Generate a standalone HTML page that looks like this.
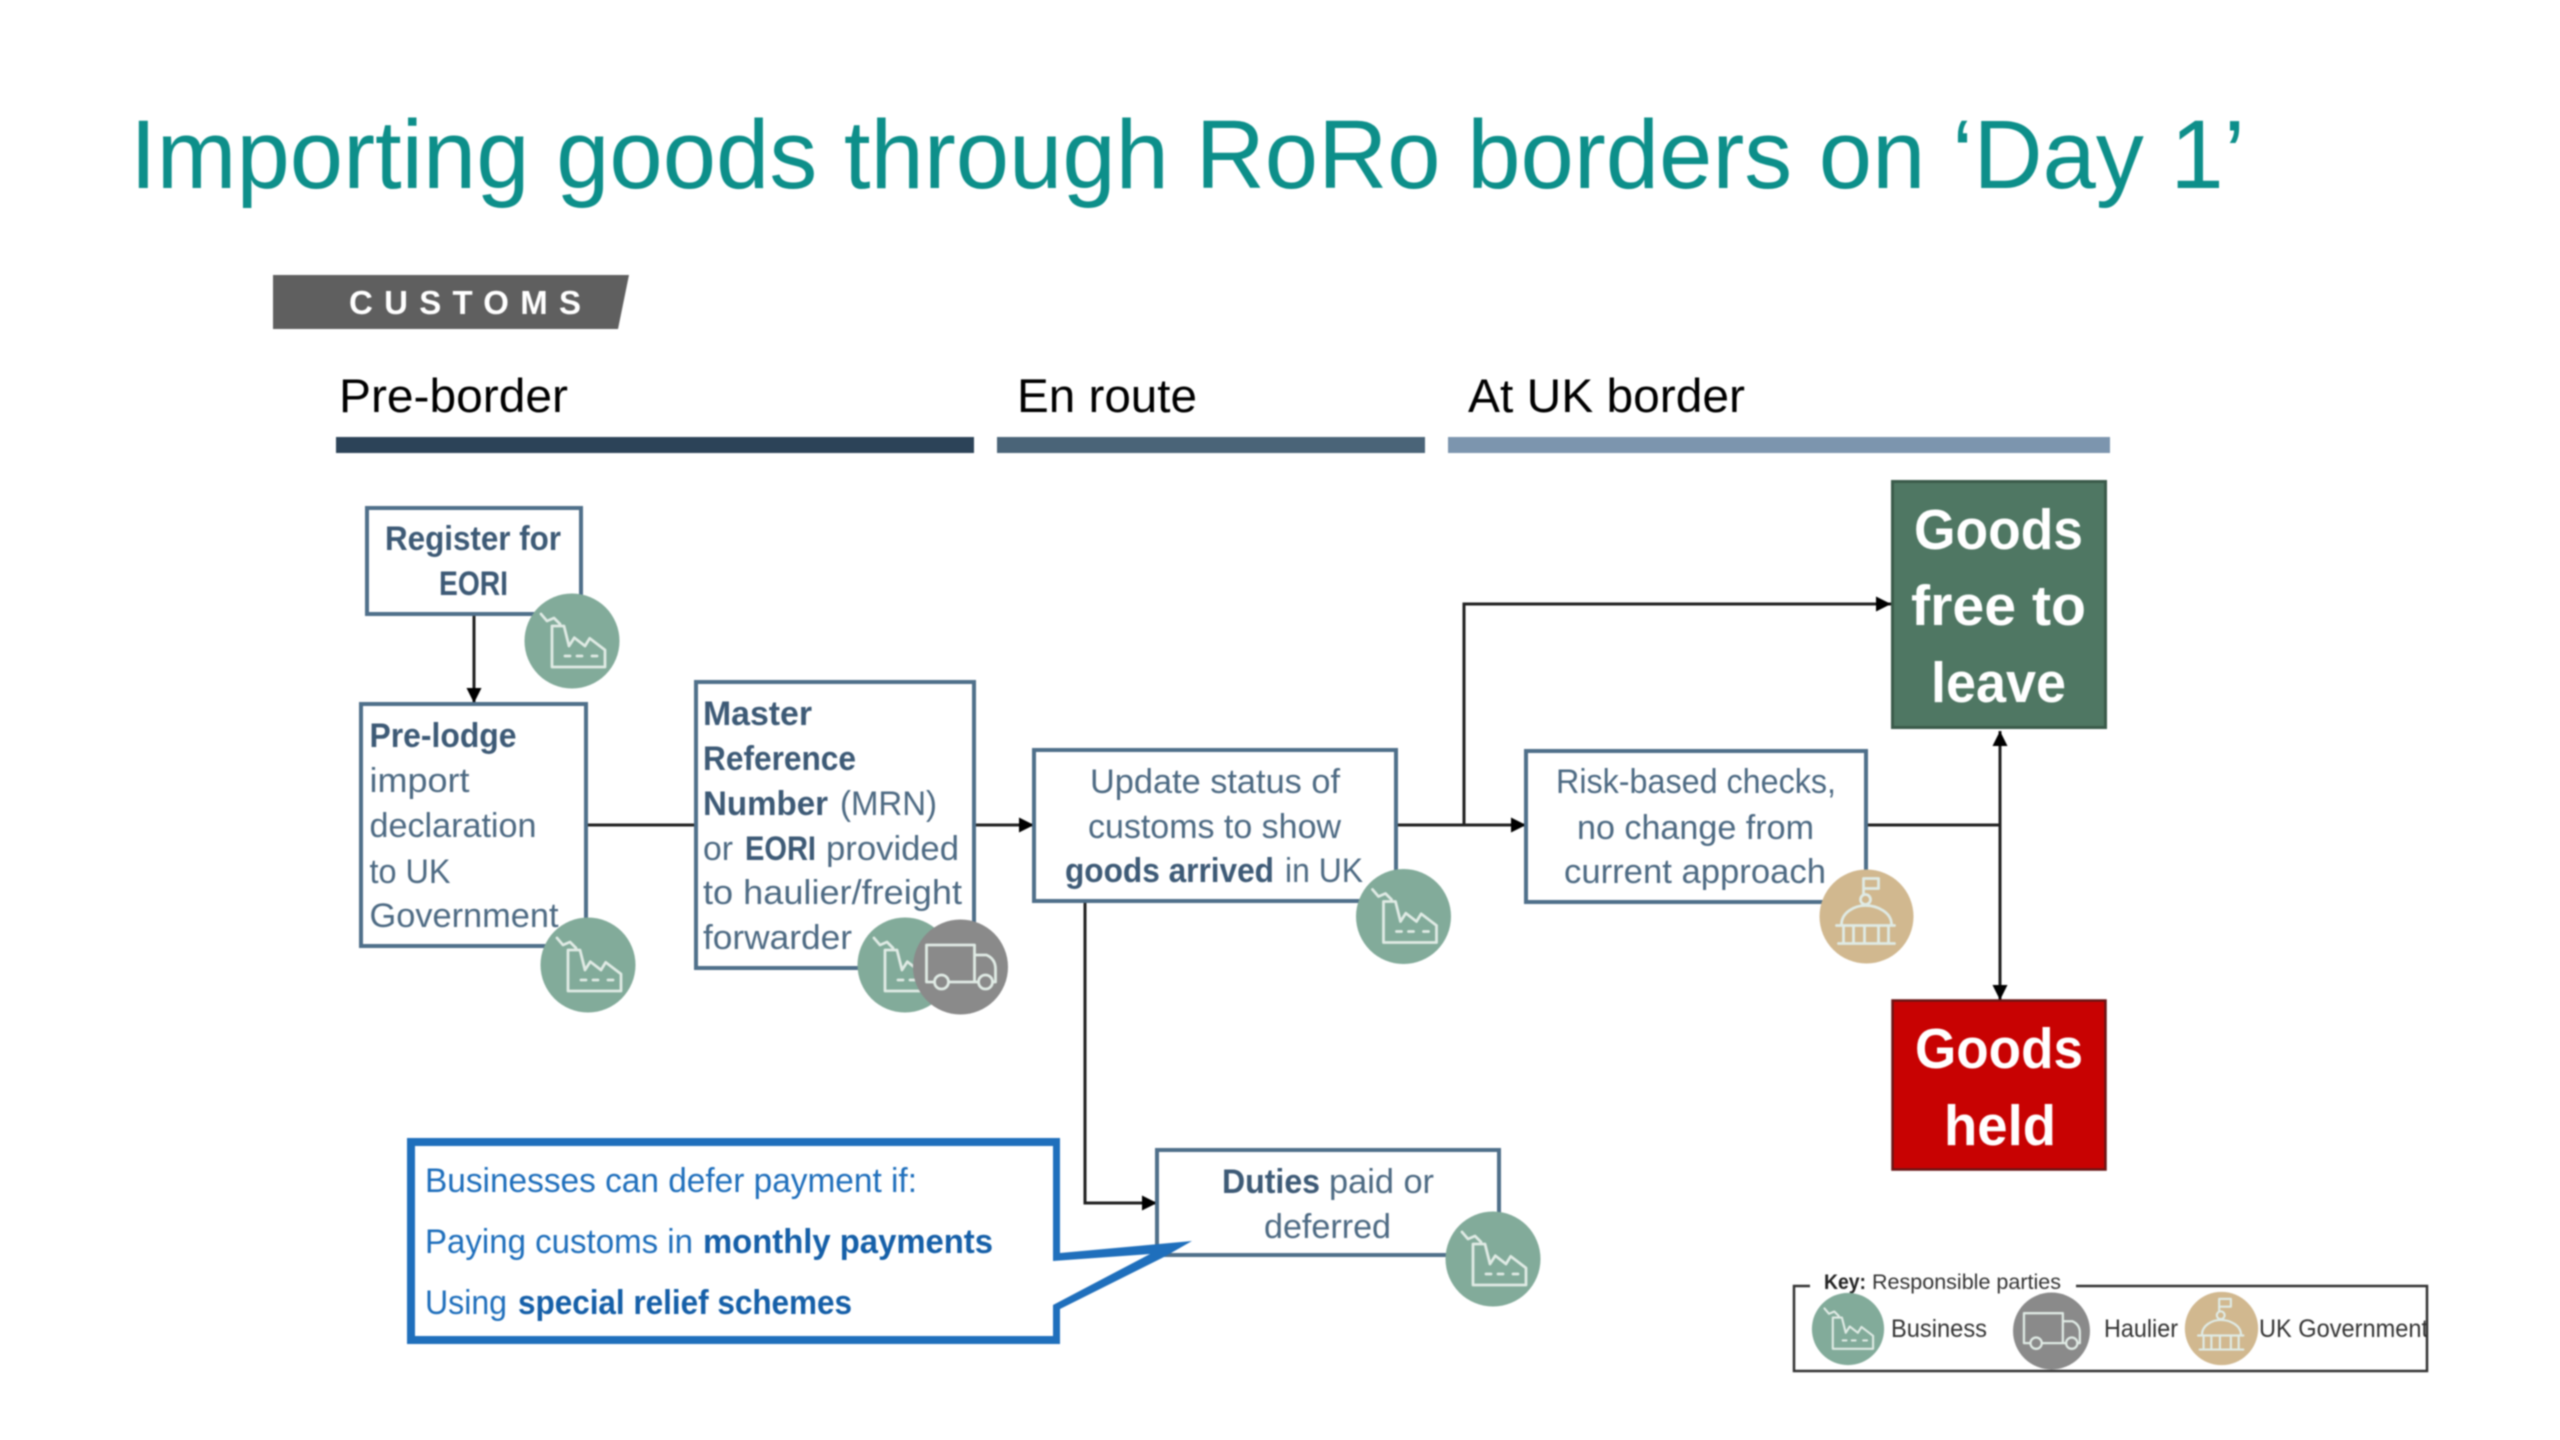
<!DOCTYPE html>
<html lang="en">
<head>
<meta charset="utf-8">
<title>Importing goods through RoRo borders on ‘Day 1’</title>
<style>
html,body{margin:0;padding:0;background:#fff;width:2560px;height:1440px;overflow:hidden}
svg{display:block;filter:blur(0.9px)}
text{font-family:"Liberation Sans",Arial,sans-serif}
.t{font-size:34px;fill:#4d6a83}
.b{font-size:34px;fill:#3d5a76;font-weight:bold}
.c{font-size:34px;fill:#1f6fbc}
.cb{font-size:34px;fill:#155fa8;font-weight:bold}
.w{font-size:57px;fill:#fff;font-weight:bold}
.h{font-size:47px;fill:#000}
.k{font-size:25px;fill:#333}
.box{fill:#fff;stroke:#4f6f8a;stroke-width:4}
.ln{fill:none;stroke:#222;stroke-width:3}
.ic{fill:none;stroke:#dfeae4;stroke-width:2.8;stroke-linejoin:round;stroke-linecap:round}
</style>
</head>
<body>
<svg xmlns="http://www.w3.org/2000/svg" width="2560" height="1440" viewBox="0 0 2560 1440">
<defs>
<g id="biz">
<circle r="47.5" fill="#82ab9a"/>
<path class="ic" d="M-20 26V-15H-8L-3 5 2.3-3.3 13 5 17.7-2.7 33 9V26Z"/>
<path class="ic" d="M-31-27-25-20-18-23-12-17"/>
<path class="ic" d="M-7 15H-2M5 15H10M20 15H25"/>
</g>
<g id="truck">
<circle r="47.5" fill="#8a8a8a"/>
<path class="ic" d="M-12 15H18M-26 15H-34V-22H14V15M14-12H26Q35-8 35 2V15H32"/>
<circle class="ic" cx="-19" cy="15" r="7"/>
<circle class="ic" cx="25" cy="15" r="7"/>
</g>
<g id="gov">
<circle r="47" fill="#d1b88f"/>
<path class="ic" d="M-3-23V-38H12V-28H-3"/>
<circle class="ic" cx="-1" cy="-17" r="5"/>
<path class="ic" d="M-25 8C-25-4-12-11-1-11 11-11 25-4 25 8M-30 9H28M-23 11V27M-13 11V27M-2 11V27M12 11V27M22 11V27M-28 27H28"/>
</g>
<marker id="ah" viewBox="0 0 10 10" refX="10" refY="5" markerWidth="15" markerHeight="15" markerUnits="userSpaceOnUse" orient="auto-start-reverse">
<path d="M0 0L10 5L0 10Z" fill="#000"/>
</marker>
</defs>

<!-- Title -->
<text x="130" y="188" font-size="97" fill="#0d8f8a" textLength="2115" lengthAdjust="spacingAndGlyphs">Importing goods through RoRo borders on ‘Day 1’</text>

<!-- Customs tag -->
<path d="M273 275H629L618 329H273Z" fill="#5f5f5f"/>
<text x="349" y="314" font-size="33" font-weight="bold" fill="#fff" textLength="232">CUSTOMS</text>

<!-- Phase headers -->
<text class="h" x="339" y="412" textLength="229" lengthAdjust="spacingAndGlyphs">Pre-border</text>
<text class="h" x="1017" y="412" textLength="180" lengthAdjust="spacingAndGlyphs">En route</text>
<text class="h" x="1468" y="412" textLength="277" lengthAdjust="spacingAndGlyphs">At UK border</text>
<rect x="336" y="437" width="638" height="16" fill="#2c4358"/>
<rect x="997" y="437" width="428" height="16" fill="#4a6478"/>
<rect x="1448" y="437" width="662" height="16" fill="#7c95ae"/>

<!-- Connectors -->
<path class="ln" d="M474 614V703" marker-end="url(#ah)"/>
<path class="ln" d="M586 825H696" stroke-width="4"/>
<path class="ln" d="M974 825H1034" marker-end="url(#ah)"/>
<path class="ln" d="M1396 825H1526" marker-end="url(#ah)" stroke-width="4"/>
<path class="ln" d="M1464 825V604H1891" marker-end="url(#ah)"/>
<path class="ln" d="M1866 825H2000" stroke-width="4"/>
<path class="ln" d="M2000 825V731" marker-end="url(#ah)"/>
<path class="ln" d="M2000 825V1000" marker-end="url(#ah)"/>
<path class="ln" d="M1085 901V1203H1157" marker-end="url(#ah)"/>

<!-- Register for EORI -->
<rect class="box" x="367" y="508" width="214" height="106"/>
<text class="b" x="385" y="550" textLength="176" lengthAdjust="spacingAndGlyphs">Register for</text>
<text class="b" x="439" y="595" textLength="69" lengthAdjust="spacingAndGlyphs">EORI</text>
<use href="#biz" x="572" y="641"/>

<!-- Pre-lodge -->
<rect class="box" x="361" y="704" width="225" height="242"/>
<text class="b" x="369.5" y="747" textLength="147" lengthAdjust="spacingAndGlyphs">Pre-lodge</text>
<text class="t" x="369.5" y="792" textLength="100" lengthAdjust="spacingAndGlyphs">import</text>
<text class="t" x="369.5" y="837" textLength="167" lengthAdjust="spacingAndGlyphs">declaration</text>
<text class="t" x="369.5" y="883" textLength="81" lengthAdjust="spacingAndGlyphs">to UK</text>
<text class="t" x="369.5" y="927" textLength="189" lengthAdjust="spacingAndGlyphs">Government</text>
<use href="#biz" x="588" y="965"/>

<!-- MRN -->
<rect class="box" x="696" y="682" width="278" height="286"/>
<text class="b" x="703" y="725" textLength="109" lengthAdjust="spacingAndGlyphs">Master</text>
<text class="b" x="703" y="770" textLength="153" lengthAdjust="spacingAndGlyphs">Reference</text>
<text class="b" x="703" y="815" textLength="125" lengthAdjust="spacingAndGlyphs">Number</text>
<text class="t" x="840" y="815" textLength="97" lengthAdjust="spacingAndGlyphs">(MRN)</text>
<text class="t" x="703" y="860" textLength="30" lengthAdjust="spacingAndGlyphs">or</text>
<text class="b" x="745" y="860" textLength="71" lengthAdjust="spacingAndGlyphs">EORI</text>
<text class="t" x="826" y="860" textLength="133" lengthAdjust="spacingAndGlyphs">provided</text>
<text class="t" x="703" y="904" textLength="259" lengthAdjust="spacingAndGlyphs">to haulier/freight</text>
<text class="t" x="703" y="949" textLength="149" lengthAdjust="spacingAndGlyphs">forwarder</text>
<use href="#biz" x="905" y="965"/>
<use href="#truck" x="960.5" y="967"/>

<!-- Update status -->
<rect class="box" x="1034" y="750" width="362" height="151"/>
<text class="t" x="1090" y="793" textLength="250" lengthAdjust="spacingAndGlyphs">Update status of</text>
<text class="t" x="1088" y="838" textLength="253" lengthAdjust="spacingAndGlyphs">customs to show</text>
<text class="b" x="1065" y="882" textLength="209" lengthAdjust="spacingAndGlyphs">goods arrived</text>
<text class="t" x="1285" y="882" textLength="78" lengthAdjust="spacingAndGlyphs">in UK</text>
<use href="#biz" x="1403.5" y="916.5"/>

<!-- Risk-based -->
<rect class="box" x="1526" y="751" width="340" height="151"/>
<text class="t" x="1556" y="793" textLength="280" lengthAdjust="spacingAndGlyphs">Risk-based checks,</text>
<text class="t" x="1577" y="839" textLength="237" lengthAdjust="spacingAndGlyphs">no change from</text>
<text class="t" x="1564" y="883" textLength="262" lengthAdjust="spacingAndGlyphs">current approach</text>
<use href="#gov" x="1866.5" y="916.5"/>

<!-- Goods free to leave -->
<rect x="1892.5" y="481.5" width="213" height="246" fill="#4f7763" stroke="#3a5a4a" stroke-width="3"/>
<text class="w" x="1914" y="549" textLength="169" lengthAdjust="spacingAndGlyphs">Goods</text>
<text class="w" x="1911" y="625" textLength="175" lengthAdjust="spacingAndGlyphs">free to</text>
<text class="w" x="1931" y="702" textLength="135" lengthAdjust="spacingAndGlyphs">leave</text>

<!-- Goods held -->
<rect x="1892.5" y="1000.5" width="213" height="169" fill="#c80202" stroke="#6b1414" stroke-width="2.5"/>
<text class="w" x="1915" y="1068" textLength="168" lengthAdjust="spacingAndGlyphs">Goods</text>
<text class="w" x="1944" y="1145" textLength="112" lengthAdjust="spacingAndGlyphs">held</text>

<!-- Duties -->
<rect class="box" x="1157" y="1150" width="342" height="105"/>
<text class="b" x="1222" y="1193" textLength="98" lengthAdjust="spacingAndGlyphs">Duties</text>
<text class="t" x="1329" y="1193" textLength="105" lengthAdjust="spacingAndGlyphs">paid or</text>
<text class="t" x="1264" y="1238" textLength="127" lengthAdjust="spacingAndGlyphs">deferred</text>
<use href="#biz" x="1493" y="1259"/>

<!-- Callout -->
<path d="M415 1146H1053V1261L1150 1254 1053 1305V1336H415Z" fill="#fff"/>
<path fill-rule="evenodd" fill="#1f6fbc" d="M407 1138H1060V1253L1192 1241 1164 1257 1060 1309V1344H407ZM415 1146V1336H1053V1305L1150 1254 1053 1261V1146Z"/>
<text class="c" x="425" y="1192" textLength="492" lengthAdjust="spacingAndGlyphs">Businesses can defer payment if:</text>
<text class="c" x="425" y="1253" textLength="268" lengthAdjust="spacingAndGlyphs">Paying customs in</text>
<text class="cb" x="703" y="1253" textLength="290" lengthAdjust="spacingAndGlyphs">monthly payments</text>
<text class="c" x="425" y="1314" textLength="82" lengthAdjust="spacingAndGlyphs">Using</text>
<text class="cb" x="518" y="1314" textLength="334" lengthAdjust="spacingAndGlyphs">special relief schemes</text>

<!-- Key -->
<path d="M1810 1286H1794V1371H2427V1286H2076" fill="none" stroke="#333" stroke-width="2.5"/>
<text x="1824" y="1289" font-size="21" font-weight="bold" fill="#222" textLength="42" lengthAdjust="spacingAndGlyphs">Key:</text>
<text x="1872" y="1289" font-size="21" fill="#333" textLength="189" lengthAdjust="spacingAndGlyphs">Responsible parties</text>
<use href="#biz" transform="translate(1848 1329) scale(.76)"/>
<use href="#truck" transform="translate(2051.5 1331) scale(.81)"/>
<use href="#gov" transform="translate(2221.5 1328.5) scale(.78)"/>
<text class="k" x="1891" y="1337" textLength="96" lengthAdjust="spacingAndGlyphs">Business</text>
<text class="k" x="2104" y="1337" textLength="74" lengthAdjust="spacingAndGlyphs">Haulier</text>
<text class="k" x="2259" y="1337" textLength="169" lengthAdjust="spacingAndGlyphs">UK Government</text>
</svg>
</body>
</html>
